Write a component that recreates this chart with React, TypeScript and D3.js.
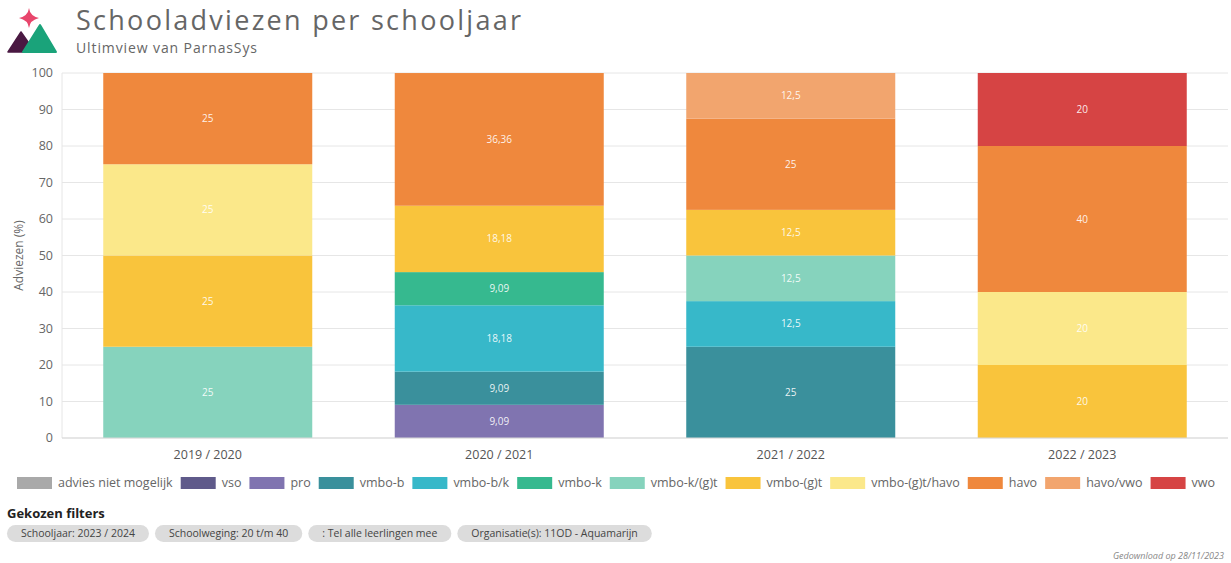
import React, { useEffect, useRef } from 'react';
import * as d3 from 'd3';

const years = ['2019 / 2020', '2020 / 2021', '2021 / 2022', '2022 / 2023'];

const adviezen = [
  'advies niet mogelijk', 'vso', 'pro', 'vmbo-b', 'vmbo-b/k', 'vmbo-k',
  'vmbo-k/(g)t', 'vmbo-(g)t', 'vmbo-(g)t/havo', 'havo', 'havo/vwo', 'vwo',
];

const kleuren = [
  '#a9a9a9', '#5f5a8a', '#8074b0', '#3a909c', '#37b8c9', '#36b98f',
  '#86d3bd', '#f9c43c', '#fbe88a', '#ef883d', '#f2a56e', '#d64444',
];

// percentages per advies, one value per schooljaar
const adviesNietMogelijk = [0, 0, 0, 0];
const vso = [0, 0, 0, 0];
const pro = [0, 9.09, 0, 0];
const vmboB = [0, 9.09, 25, 0];
const vmboBK = [0, 18.18, 12.5, 0];
const vmboK = [0, 9.09, 0, 0];
const vmboKGT = [25, 0, 12.5, 0];
const vmboGT = [25, 18.18, 12.5, 20];
const vmboGTHavo = [25, 0, 0, 20];
const havo = [25, 36.36, 25, 40];
const havoVwo = [0, 0, 12.5, 0];
const vwo = [0, 0, 0, 20];

const seriesValues = [
  adviesNietMogelijk, vso, pro, vmboB, vmboBK, vmboK,
  vmboKGT, vmboGT, vmboGTHavo, havo, havoVwo, vwo,
];

const yTicks = [0, 10, 20, 30, 40, 50, 60, 70, 80, 90, 100];

const filters = [
  'Schooljaar: 2023 / 2024',
  'Schoolweging: 20 t/m 40',
  ': Tel alle leerlingen mee',
  'Organisatie(s): 11OD - Aquamarijn',
];

const FONT = '"Open Sans", "Noto Sans", sans-serif';

const App: React.FC = () => {
  const svgRef = useRef<SVGSVGElement>(null);

  useEffect(() => {
    if (!svgRef.current) return;
    const W = 1231;
    const H = 563;
    const svg = d3.select(svgRef.current);
    svg.selectAll('*').remove();
    svg.attr('width', W).attr('height', H).style('font-family', FONT);

    // logo
    const logo = svg.append('g');
    logo.append('path').attr('d', 'M8,52 L21,32 L35,52 Z').attr('fill', '#4a1942')
      .attr('stroke', '#4a1942').attr('stroke-width', 1.5).attr('stroke-linejoin', 'round');
    logo.append('path').attr('d', 'M23,52 L40,25 L56,52 Z').attr('fill', '#1aa37a')
      .attr('stroke', '#1aa37a').attr('stroke-width', 2).attr('stroke-linejoin', 'round');
    logo.append('path')
      .attr('d', 'M29,8 Q30,16 39,18 Q30,20 29,28 Q28,20 19,18 Q28,16 29,8 Z')
      .attr('fill', '#e8466c');

    svg.append('text').attr('x', 76).attr('y', 30).attr('font-size', 27).attr('fill', '#666')
      .attr('textLength', 445).text('Schooladviezen per schooljaar');
    svg.append('text').attr('x', 76).attr('y', 53).attr('font-size', 14).attr('fill', '#666')
      .attr('textLength', 181).text('Ultimview van ParnasSys');

    const margin = { top: 73, left: 62, right: 3, bottom: 125 };
    const innerW = W - margin.left - margin.right;
    const innerH = H - margin.top - margin.bottom;

    const x = d3.scaleBand().domain(years).range([0, innerW]).paddingInner(0.283).paddingOuter(0.1415);
    const y = d3.scaleLinear().domain([0, 100]).range([innerH, 0]);

    const g = svg.append('g').attr('transform', `translate(${margin.left},${margin.top})`);

    // grid
    g.append('g').selectAll('line').data(yTicks).enter().append('line')
      .attr('x1', 0).attr('x2', innerW)
      .attr('y1', d => y(d)).attr('y2', d => y(d))
      .attr('stroke', '#e6e6e6').attr('stroke-width', 1);
    g.append('line').attr('x1', 0).attr('x2', 0).attr('y1', 0).attr('y2', innerH)
      .attr('stroke', '#e6e6e6');

    g.append('g').selectAll('text').data(yTicks).enter().append('text')
      .attr('x', -9).attr('y', d => y(d)).attr('dy', '0.35em')
      .attr('text-anchor', 'end').attr('font-size', 12.5).attr('fill', '#666')
      .text(d => d);

    svg.append('text')
      .attr('transform', `translate(23,${margin.top + innerH / 2}) rotate(-90)`)
      .attr('text-anchor', 'middle').attr('font-size', 12).attr('fill', '#666')
      .text('Adviezen (%)');

    // stacked bars
    const rows = years.map((yr, i) => {
      const row: Record<string, number | string> = { year: yr };
      adviezen.forEach((a, k) => { row[a] = seriesValues[k][i]; });
      return row;
    });
    const stack = d3.stack<Record<string, number | string>>().keys(adviezen)
      .value((d, key) => d[key] as number);
    const stacked = stack(rows);

    stacked.forEach((layer, k) => {
      const lg = g.append('g');
      layer.forEach((seg, i) => {
        const v = seriesValues[k][i];
        if (v <= 0) return;
        const x0 = x(years[i]) as number;
        lg.append('rect')
          .attr('x', x0).attr('width', x.bandwidth())
          .attr('y', y(seg[1])).attr('height', y(seg[0]) - y(seg[1]))
          .attr('fill', kleuren[k]);
        lg.append('text')
          .attr('x', x0 + x.bandwidth() / 2).attr('y', y((seg[0] + seg[1]) / 2))
          .attr('dy', '0.35em').attr('text-anchor', 'middle')
          .attr('font-size', 10).attr('fill', '#fff').attr('fill-opacity', 0.9)
          .text(String(v).replace('.', ','));
      });
    });

    g.append('line').attr('x1', 0).attr('x2', innerW).attr('y1', innerH).attr('y2', innerH)
      .attr('stroke', '#d9d9d9');

    g.append('g').selectAll('text').data(years).enter().append('text')
      .attr('x', d => (x(d) as number) + x.bandwidth() / 2).attr('y', innerH + 21)
      .attr('text-anchor', 'middle').attr('font-size', 12.5).attr('fill', '#555')
      .text(d => d);

    // legend
    const legend = svg.append('g').attr('transform', 'translate(17,477)');
    let lx = 0;
    adviezen.forEach((a, k) => {
      legend.append('rect').attr('x', lx).attr('y', 0).attr('width', 35).attr('height', 12)
        .attr('fill', kleuren[k]);
      const t = legend.append('text').attr('x', lx + 41).attr('y', 6).attr('dy', '0.35em')
        .attr('font-size', 12.5).attr('fill', '#666').text(a);
      const tw = (t.node() as SVGTextElement).getComputedTextLength();
      lx += 41 + tw + 8;
    });

    svg.append('text').attr('x', 7).attr('y', 518).attr('font-size', 13)
      .attr('font-weight', 'bold').attr('fill', '#222').text('Gekozen filters');

    let px = 7;
    filters.forEach(f => {
      const pg = svg.append('g');
      const r = pg.append('rect').attr('y', 525).attr('height', 17).attr('rx', 8.5).attr('fill', '#dcdcdc');
      const t = pg.append('text').attr('y', 533.5).attr('dy', '0.35em').attr('font-size', 10.5)
        .attr('fill', '#444').text(f);
      const tw = (t.node() as SVGTextElement).getComputedTextLength();
      r.attr('x', px).attr('width', tw + 28);
      t.attr('x', px + 14);
      px += tw + 28 + 6;
    });

    svg.append('text').attr('x', 1224).attr('y', 559).attr('text-anchor', 'end')
      .attr('font-size', 9).attr('font-style', 'italic').attr('fill', '#888')
      .text('Gedownload op 28/11/2023');
  }, []);

  return (
    <svg ref={svgRef} style={{ position: 'absolute', left: 0, top: 0, background: '#fff' }} />
  );
};

export default App;
